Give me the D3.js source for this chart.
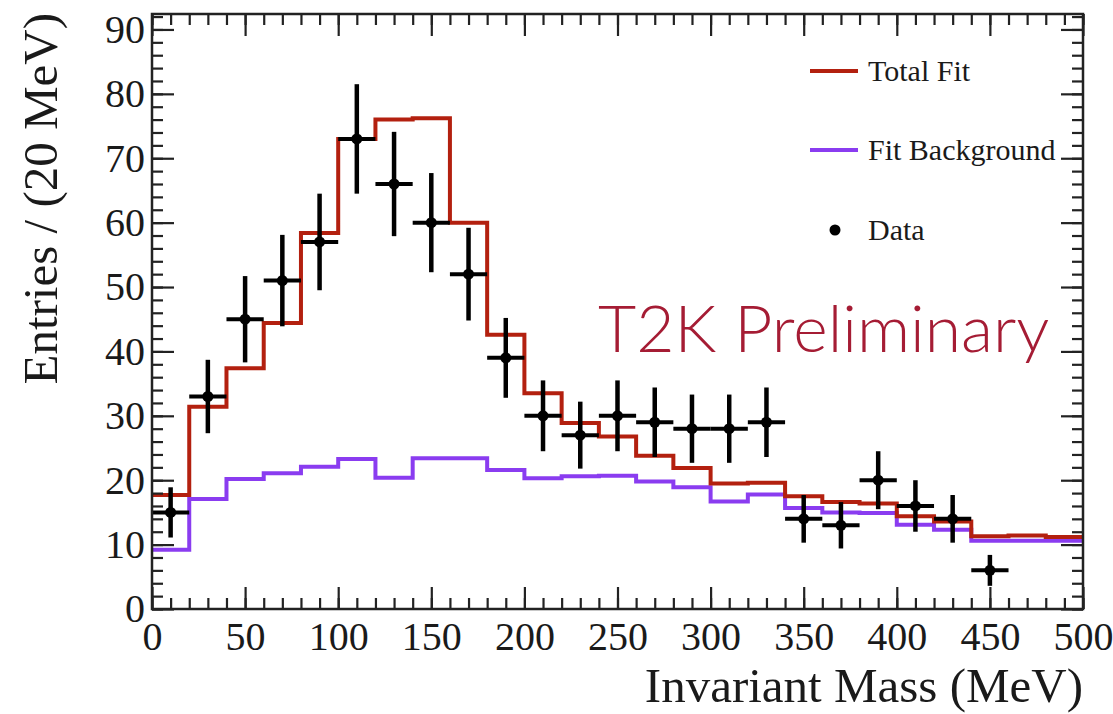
<!DOCTYPE html>
<html>
<head>
<meta charset="utf-8">
<script src="https://cdn.jsdelivr.net/npm/d3@7"></script>
<style>
  html, body { margin: 0; padding: 0; background: #fff; }
  svg { display: block; }
</style>
</head>
<body>
<svg id="chart"></svg>
<script>
// Bin edges (MeV), 20 MeV bins
const binEdges = d3.range(0, 501, 20);

// Total fit, one value per bin
const totalFit = [17.7, 31.4, 37.4, 44.4, 58.4, 73.0, 76.0, 76.2, 60.0, 42.6,
  33.5, 28.9, 26.8, 23.8, 21.9, 19.5, 19.6, 17.5, 16.6, 16.4,
  14.4, 13.6, 11.3, 11.4, 11.2];

// Fit background, one value per bin
const fitBackground = [9.2, 17.1, 20.2, 21.1, 22.1, 23.3, 20.4, 23.4, 23.4, 21.6,
  20.3, 20.6, 20.7, 19.8, 18.9, 16.7, 17.8, 15.7, 15.0, 14.9,
  13.1, 12.3, 10.6, 10.6, 10.6];

// Data points (bin centres, entries, errors)
const dataMass = [10, 30, 50, 70, 90, 110, 130, 150, 170, 190, 210, 230, 250, 270, 290, 310, 330, 350, 370, 390, 410, 430, 450];
const dataEntries = [15, 33, 45, 51, 57, 73, 66, 60, 52, 39, 30, 27, 30, 29, 28, 28, 29, 14, 13, 20, 16, 14, 6];
const dataErrors = [3.9, 5.7, 6.7, 7.1, 7.5, 8.5, 8.1, 7.7, 7.2, 6.2, 5.5, 5.2, 5.5, 5.4, 5.3, 5.3, 5.4, 3.7, 3.6, 4.5, 4.0, 3.7, 2.4];

const xTicks = [0, 50, 100, 150, 200, 250, 300, 350, 400, 450, 500];
const yTicks = [0, 10, 20, 30, 40, 50, 60, 70, 80, 90];

const legendItems = [
  { label: 'Total Fit', type: 'line', color: '#b3200f' },
  { label: 'Fit Background', type: 'line', color: '#8a3cf0' },
  { label: 'Data', type: 'dot', color: '#000' }
];

const width = 1113, height = 714;
const frame = { left: 152, right: 1083, top: 14, bottom: 609 };
const fontSerif = '"Liberation Serif", "DejaVu Serif", serif';

const svg = d3.select('#chart')
  .attr('width', width)
  .attr('height', height);

const x = d3.scaleLinear().domain([0, 500]).range([frame.left, frame.right]);
const y = d3.scaleLinear().domain([0, 92.4]).range([frame.bottom, frame.top]);

// Step histograms
const stepLine = d3.line()
  .x(d => x(d[0]))
  .y(d => y(d[1]))
  .curve(d3.curveStepAfter);

function stepPoints(values) {
  const pts = values.map((v, i) => [binEdges[i], v]);
  pts.push([binEdges[values.length], values[values.length - 1]]);
  return pts;
}

svg.append('path')
  .attr('d', stepLine(stepPoints(fitBackground)))
  .attr('fill', 'none')
  .attr('stroke', '#8a3cf0')
  .attr('stroke-width', 4);

svg.append('path')
  .attr('d', stepLine(stepPoints(totalFit)))
  .attr('fill', 'none')
  .attr('stroke', '#b3200f')
  .attr('stroke-width', 4);

// Data points with error bars
const pts = svg.append('g').attr('class', 'data');
dataMass.forEach((m, i) => {
  const v = dataEntries[i], e = dataErrors[i];
  pts.append('line')
    .attr('x1', x(m)).attr('x2', x(m))
    .attr('y1', y(v - e)).attr('y2', y(v + e))
    .attr('stroke', '#000').attr('stroke-width', 4.5);
  pts.append('line')
    .attr('x1', x(m - 10)).attr('x2', x(m + 10))
    .attr('y1', y(v)).attr('y2', y(v))
    .attr('stroke', '#000').attr('stroke-width', 4);
  pts.append('circle')
    .attr('cx', x(m)).attr('cy', y(v))
    .attr('r', 5.5)
    .attr('fill', '#000');
});

// Axes (ROOT style: ticks inside on all four sides)
function styleAxis(g) {
  g.select('.domain').remove();
  g.selectAll('line').attr('stroke', '#222').attr('stroke-width', 2.2);
  g.selectAll('text')
    .attr('fill', '#1a1a1a')
    .style('font-family', fontSerif)
    .style('font-size', '40px');
}

const xMinor = d3.range(0, 501, 10);
const yMinor = d3.range(0, 93, 2);

svg.append('g')
  .attr('transform', `translate(0,${frame.bottom})`)
  .call(d3.axisBottom(x).tickValues(xMinor).tickSize(-11).tickFormat(''))
  .call(styleAxis);
svg.append('g')
  .attr('transform', `translate(0,${frame.bottom})`)
  .call(d3.axisBottom(x).tickValues(xTicks).tickSize(-22).tickPadding(13).tickFormat(d3.format('d')))
  .call(styleAxis);

svg.append('g')
  .attr('transform', `translate(0,${frame.top})`)
  .call(d3.axisTop(x).tickValues(xMinor).tickSize(-11).tickFormat(''))
  .call(styleAxis);
svg.append('g')
  .attr('transform', `translate(0,${frame.top})`)
  .call(d3.axisTop(x).tickValues(xTicks).tickSize(-22).tickFormat(''))
  .call(styleAxis);

svg.append('g')
  .attr('transform', `translate(${frame.left},0)`)
  .call(d3.axisLeft(y).tickValues(yMinor).tickSize(-11).tickFormat(''))
  .call(styleAxis);
svg.append('g')
  .attr('transform', `translate(${frame.left},0)`)
  .call(d3.axisLeft(y).tickValues(yTicks).tickSize(-22).tickPadding(7).tickFormat(d3.format('d')))
  .call(styleAxis);

svg.append('g')
  .attr('transform', `translate(${frame.right},0)`)
  .call(d3.axisRight(y).tickValues(yMinor).tickSize(-11).tickFormat(''))
  .call(styleAxis);
svg.append('g')
  .attr('transform', `translate(${frame.right},0)`)
  .call(d3.axisRight(y).tickValues(yTicks).tickSize(-22).tickFormat(''))
  .call(styleAxis);

// Frame
svg.append('rect')
  .attr('x', frame.left).attr('y', frame.top)
  .attr('width', frame.right - frame.left)
  .attr('height', frame.bottom - frame.top)
  .attr('fill', 'none')
  .attr('stroke', '#222')
  .attr('stroke-width', 2.5);

// Axis titles
svg.append('text')
  .attr('x', frame.right).attr('y', 702)
  .attr('text-anchor', 'end')
  .attr('fill', '#1a1a1a')
  .style('font-family', fontSerif)
  .style('font-size', '49px')
  .text('Invariant Mass (MeV)');

svg.append('text')
  .attr('transform', 'translate(57,13) rotate(-90)')
  .attr('text-anchor', 'end')
  .attr('fill', '#1a1a1a')
  .style('font-family', fontSerif)
  .style('font-size', '49px')
  .text('Entries / (20 MeV)');

// Legend
const legend = svg.append('g');
const legendY = [71, 150, 230];
legendItems.forEach((item, i) => {
  const ly = legendY[i];
  if (item.type === 'line') {
    legend.append('line')
      .attr('x1', 810).attr('x2', 858)
      .attr('y1', ly).attr('y2', ly)
      .attr('stroke', item.color).attr('stroke-width', 4);
  } else {
    legend.append('circle')
      .attr('cx', 835).attr('cy', ly)
      .attr('r', 5.5)
      .attr('fill', item.color);
  }
  legend.append('text')
    .attr('x', 868).attr('y', ly + 10)
    .attr('fill', '#1a1a1a')
    .style('font-family', fontSerif)
    .style('font-size', '30px')
    .text(item.label);
});

// Watermark
svg.append('text')
  .attr('x', 598).attr('y', 352)
  .attr('fill', '#a51c34')
  .style('font-family', 'Lato, "Open Sans", sans-serif')
  .style('font-weight', 300)
  .style('font-size', '66px')
  .text('T2K Preliminary');
</script>
</body>
</html>
